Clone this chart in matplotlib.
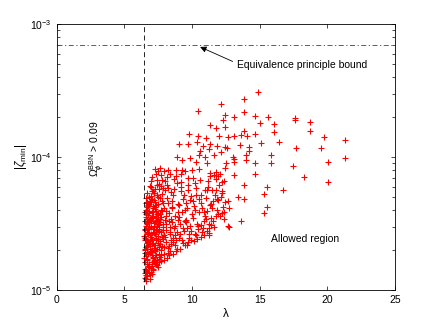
import matplotlib
matplotlib.use("Agg")
import matplotlib.pyplot as plt
import numpy as np

plt.rcParams['font.family'] = ['Liberation Sans', 'DejaVu Sans']
plt.rcParams['mathtext.fontset'] = 'custom'
plt.rcParams['mathtext.rm'] = 'Liberation Sans'
plt.rcParams['mathtext.it'] = 'Liberation Sans:italic'
plt.rcParams['font.size'] = 7.5

# scattered points (upper / right part), zeta in units of 1e-5
lam_sparse = [12.14, 14.9, 13.87, 10.47, 13.87, 12.41, 13.13, 14.68, 15.59, 17.59,
              17.59, 18.69, 16.03, 15.0, 11.35, 12.27, 11.80, 12.44, 18.69, 16.03,
              13.87, 14.68, 9.78, 10.47, 11.03, 12.0, 12.64, 13.13, 13.6, 14.04,
              19.75, 21.3, 16.45, 15.1, 9.01, 9.73, 10.34, 10.81, 11.33, 11.87,
              12.46, 13.52, 14.24, 17.69, 19.53, 14.19, 10.59, 11.26, 12.59, 12.14,
              14.01, 15.84, 13.05, 13.13, 21.3, 8.92, 9.83, 10.52, 10.94, 11.65,
              13.99, 14.65, 15.81, 20.07, 17.49, 13.1, 9.26, 10.27, 11.08, 12.49,
              14.63, 18.3, 13.13, 20.07, 13.82, 15.57, 16.75, 15.34, 13.37, 13.84,
              12.64, 15.54, 15.34, 12.71, 12.22, 13.6, 12.68, 12.71, 11.23, 11.26,
              11.01, 11.38, 11.13, 11.77, 11.95, 12.24, 12.34, 11.95, 11.33, 11.77]
zeta_sparse = [25.0, 30.8, 27.3, 22.4, 21.8, 20.7, 19.9, 20.3, 20.1, 19.6,
               18.9, 18.3, 17.7, 18.0, 17.5, 18.9, 16.6, 16.8, 15.6, 15.4,
               15.8, 14.9, 14.8, 14.5, 14.0, 14.5, 14.2, 14.5, 14.6, 14.5,
               14.1, 13.5, 13.1, 12.7, 12.6, 12.6, 13.0, 12.2, 12.6, 12.2,
               12.0, 12.4, 12.0, 11.8, 11.8, 11.2, 11.2, 11.6, 11.7, 11.0,
               10.3, 10.4, 10.1, 9.66, 9.77, 10.1, 9.77, 10.4, 10.1, 10.3,
               9.55, 9.01, 9.01, 9.12, 8.51, 9.12, 9.55, 9.16, 9.01, 9.01,
               7.45, 7.08, 7.28, 6.49, 6.12, 5.98, 5.62, 5.30, 5.01, 4.83,
               4.67, 4.24, 3.79, 4.14, 3.79, 3.28, 3.05, 2.96, 2.69, 2.61,
               3.42, 4.46, 5.68, 5.62, 4.78, 5.37, 6.56, 7.16, 7.16, 7.67]

# dense cluster next to the BBN bound (zeta in units of 1e-5)
lam_dense = [
    # 6.45 - 6.8
    6.61, 6.48, 6.73, 6.55, 6.67, 6.52, 6.79, 6.58, 6.64, 6.50, 6.70, 6.57, 6.76, 6.53, 6.62,
    6.69, 6.49, 6.74, 6.59, 6.66, 6.51, 6.78, 6.56, 6.63, 6.71, 6.54, 6.68, 6.47, 6.75, 6.60,
    6.65, 6.52, 6.72, 6.57, 6.80, 6.62, 6.50, 6.69, 6.55, 6.77, 6.58, 6.64, 6.53, 6.73, 6.60,
    # 6.8 - 7.2
    6.93, 7.14, 6.84, 7.05, 6.97, 7.19, 6.88, 7.09, 6.82, 7.01, 7.16, 6.91, 7.07, 6.86, 7.12,
    6.95, 7.03, 6.81, 7.18, 6.99, 6.89, 7.10, 6.94, 7.06, 6.83, 7.15, 7.00, 6.87, 7.11, 6.96,
    7.04, 6.85, 7.17, 6.92, 7.08, 6.98, 6.84, 7.13, 6.90, 7.02, 7.19, 6.86, 7.07, 6.95, 7.11,
    # 7.2 - 7.6
    7.34, 7.52, 7.23, 7.45, 7.29, 7.58, 7.38, 7.26, 7.49, 7.33, 7.55, 7.21, 7.42, 7.31, 7.57,
    7.36, 7.47, 7.24, 7.53, 7.40, 7.28, 7.50, 7.35, 7.22, 7.44, 7.59, 7.30, 7.46, 7.37, 7.54,
    7.25, 7.41, 7.51, 7.32, 7.48, 7.27, 7.56, 7.39, 7.43, 7.34,
    # 7.6 - 8.0
    7.71, 7.88, 7.63, 7.95, 7.79, 7.66, 7.91, 7.74, 7.84, 7.61, 7.98, 7.69, 7.82, 7.77, 7.93,
    7.64, 7.86, 7.73, 7.97, 7.68, 7.80, 7.89, 7.62, 7.75, 7.94, 7.70, 7.85, 7.65, 7.92, 7.78,
    7.83, 7.67, 7.96, 7.72,
    # 8.0 - 8.5
    8.14, 8.37, 8.05, 8.26, 8.44, 8.19, 8.31, 8.02, 8.48, 8.22, 8.11, 8.39, 8.28, 8.07, 8.46,
    8.17, 8.34, 8.24, 8.03, 8.42, 8.13, 8.29, 8.49, 8.09, 8.36, 8.21, 8.41, 8.16, 8.32, 8.06,
    # 8.5 - 9.0
    8.63, 8.86, 8.54, 8.77, 8.95, 8.69, 8.58, 8.83, 8.72, 8.92, 8.51, 8.66, 8.89, 8.75, 8.60,
    8.98, 8.80, 8.56, 8.71, 8.94, 8.64, 8.85, 8.53, 8.78,
    # 9.0 - 9.5
    9.12, 9.36, 9.04, 9.27, 9.45, 9.18, 9.08, 9.33, 9.22, 9.48, 9.01, 9.39, 9.15, 9.29, 9.43,
    9.06, 9.24, 9.47, 9.10, 9.31, 9.20,
    # 9.5 - 10
    9.62, 9.85, 9.54, 9.76, 9.93, 9.67, 9.58, 9.89, 9.72, 9.97, 9.51, 9.81, 9.64, 9.91, 9.70,
    9.56, 9.83, 9.74, 9.60,
    # 10 - 10.5
    10.13, 10.36, 10.04, 10.27, 10.45, 10.19, 10.09, 10.33, 10.22, 10.48, 10.02, 10.39, 10.16,
    10.29, 10.43, 10.07, 10.24,
    # 10.5 - 11
    10.63, 10.86, 10.54, 10.77, 10.93, 10.67, 10.58, 10.89, 10.72, 10.97, 10.51, 10.81, 10.64,
    10.91, 10.70,
    # 11 - 12
    11.12, 11.38, 11.05, 11.27, 11.46, 11.19, 11.58, 11.83, 11.64, 11.92, 11.31, 11.09, 11.71,
    11.96, 11.24, 11.55, 11.42, 11.78, 11.16, 11.87, 11.34, 11.61, 11.49, 11.75,
    # 12 - 12.5
    12.08, 12.30, 12.15, 12.40, 12.22, 12.45, 12.05, 12.35, 12.18, 12.42]
zeta_dense = [
    1.21, 1.74, 2.63, 1.33, 3.12, 2.05, 1.58, 4.02, 1.27, 2.88, 1.92, 3.56, 2.31, 1.45, 4.48,
    1.68, 3.31, 2.17, 1.39, 2.74, 3.83, 1.86, 2.47, 1.16, 3.44, 1.99, 4.21, 2.56, 1.51, 3.02,
    2.24, 1.63, 3.68, 1.30, 2.92, 1.79, 2.39, 4.63, 1.24, 3.22, 2.11, 1.56, 2.81, 4.30, 1.42,
    2.34, 1.41, 3.78, 1.62, 5.12, 2.07, 1.29, 2.86, 4.44, 1.83, 3.19, 6.05, 1.52, 2.58, 3.61,
    1.37, 4.87, 2.21, 2.71, 1.95, 3.42, 5.58, 1.47, 2.42, 3.03, 1.73, 6.62, 2.13, 4.11, 3.31,
    1.58, 2.95, 5.34, 1.89, 3.87, 2.51, 1.34, 2.27, 4.66, 3.55, 1.66, 2.02, 7.05, 2.66, 4.28,
    1.57, 2.43, 3.24, 1.49, 4.62, 2.09, 6.18, 1.78, 3.66, 2.71, 1.62, 5.33, 2.96, 7.42, 1.86,
    3.91, 2.27, 4.21, 2.88, 1.69, 8.15, 2.55, 3.48, 2.01, 6.71, 3.10, 1.95, 4.97, 2.37, 5.76,
    2.64, 1.53, 3.82, 4.38, 7.88, 2.18, 1.71, 3.34, 5.15, 2.82,
    1.64, 2.52, 3.73, 1.88, 5.24, 2.23, 4.15, 7.36, 2.96, 1.76, 3.37, 6.08, 2.41, 4.66, 2.09,
    8.32, 3.11, 1.99, 5.63, 2.73, 3.92, 4.48, 2.34, 6.75, 1.69, 3.56, 2.85, 4.94, 7.83, 2.16,
    5.90, 3.24, 2.60, 1.82,
    1.73, 2.62, 3.95, 2.08, 5.47, 1.91, 3.29, 6.64, 2.37, 4.52, 2.85, 7.52, 1.84, 3.63, 2.23,
    4.96, 2.96, 8.05, 2.49, 3.44, 6.12, 2.14, 4.21, 3.12, 1.97, 5.86, 2.71, 7.08, 3.79, 2.30,
    1.88, 2.74, 4.13, 2.19, 3.36, 5.74, 2.47, 7.18, 3.02, 2.05, 4.71, 2.91, 6.33, 3.63, 2.28,
    4.42, 1.97, 5.21, 2.58, 3.85, 6.86, 2.36, 3.24, 8.02,
    2.04, 2.91, 4.36, 2.37, 3.28, 5.92, 2.63, 4.85, 7.41, 2.19, 3.55, 2.76, 6.48, 3.86, 5.21,
    2.48, 8.06, 4.02, 3.14, 2.25, 5.57,
    2.18, 3.04, 4.52, 2.44, 2.79, 6.21, 3.38, 5.06, 2.31, 3.72, 7.86, 2.63, 4.14, 2.38, 5.63,
    3.25, 4.79, 6.94, 2.92,
    2.32, 3.16, 4.68, 2.57, 2.88, 6.37, 3.49, 5.22, 2.66, 3.84, 7.93, 2.41, 4.29, 5.81, 3.02,
    6.92, 4.03,
    2.51, 3.33, 4.87, 2.72, 5.64, 3.07, 6.78, 2.61, 4.16, 3.58, 8.12, 2.94, 5.19, 3.86, 4.52,
    2.79, 3.46, 4.92, 3.12, 5.67, 6.58, 3.28, 4.03, 7.34, 3.71, 4.37, 3.94, 5.21, 6.22, 2.93,
    4.64, 3.07, 3.58, 5.95, 4.88, 7.61, 2.98, 4.15, 6.84,
    3.62, 4.18, 5.04, 3.41, 6.45, 4.62, 7.52, 3.86, 5.55, 8.23]

# extra points filling the solid core of the cluster
lam_core = [6.59, 6.83, 7.02, 6.71, 6.95, 7.28, 6.64, 7.13, 6.88, 7.41,
            6.54, 7.07, 6.78, 7.33, 6.98, 7.55, 6.67, 7.20, 6.91, 7.47,
            6.57, 7.11, 6.85, 7.38, 7.64, 6.73, 7.25, 6.99, 7.52, 6.62,
            7.16, 6.81, 7.44, 7.72, 6.69, 7.04, 7.30, 6.94, 7.58, 6.56,
            7.09, 6.87, 7.36, 7.81, 6.76, 7.22, 6.97, 7.49, 6.63, 7.14]
zeta_core = [1.36, 1.48, 1.31, 1.70, 1.92, 1.60, 2.14, 1.76, 2.36, 2.03,
             2.54, 2.22, 2.68, 2.47, 2.99, 2.78, 3.18, 3.05, 3.38, 3.29,
             3.73, 3.57, 3.96, 3.72, 3.41, 4.37, 4.05, 4.56, 4.44, 4.89,
             4.78, 5.02, 5.21, 4.03, 5.38, 5.51, 5.73, 5.94, 6.26, 1.89,
             1.44, 1.21, 1.82, 2.52, 2.88, 2.69, 3.49, 3.15, 2.41, 3.91]

bbn_lambda = 6.45
ep_bound = 7.0e-4

assert len(lam_dense) == len(zeta_dense), (len(lam_dense), len(zeta_dense))
lam = np.array(lam_sparse + lam_dense + lam_core)
zeta = np.array(zeta_sparse + zeta_dense + zeta_core) * 1e-5

fig = plt.figure(figsize=(4.36, 3.28), dpi=100)
ax = fig.add_axes([0.130, 0.116, 0.776, 0.810])

ax.plot(lam, zeta, '+', color='red', markersize=5, markeredgewidth=0.8)
ax.axvline(bbn_lambda, color='black', linestyle=(0, (6, 4)), linewidth=0.6)
ax.axhline(ep_bound, color='#444444', linestyle=(0, (6, 3, 1.5, 3)), linewidth=0.6)

ax.set_yscale('log')
ax.set_xlim(0, 25)
ax.set_ylim(1e-5, 1e-3)
ax.set_xticks([0, 5, 10, 15, 20, 25])
ax.tick_params(which='both', direction='in', top=True, right=True, width=0.5)
ax.tick_params(which='major', length=3)
ax.tick_params(which='minor', length=2)
for s in ax.spines.values():
    s.set_linewidth(0.6)

ax.set_xlabel('λ', labelpad=2, fontsize=8.5)
ax.set_ylabel(r'$|\zeta_{\rm min}|$', labelpad=1, fontsize=8.5)

ax.annotate('', xy=(10.6, 6.75e-4), xytext=(13.0, 5.25e-4),
            arrowprops=dict(arrowstyle='-|>', color='black', lw=0.6,
                            mutation_scale=9, shrinkA=0, shrinkB=0))
ax.text(13.3, 4.95e-4, 'Equivalence principle bound', ha='left', va='center')
ax.text(15.8, 2.43e-5, 'Allowed region', ha='left', va='center')
ax.text(3.0, 1.15e-4, r'$\Omega_{\phi}^{\rm BBN}$ > 0.09', rotation=90,
        ha='center', va='center')

fig.savefig('out.png', dpi=100)
